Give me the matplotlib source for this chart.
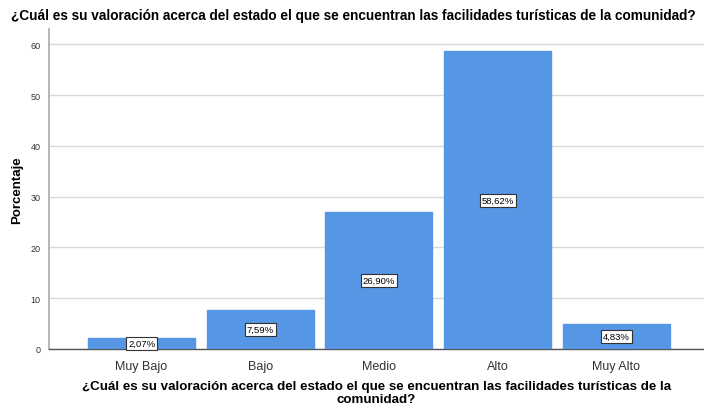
import matplotlib
matplotlib.use("Agg")
import matplotlib.pyplot as plt

categories = ["Muy Bajo", "Bajo", "Medio", "Alto", "Muy Alto"]
values = [2.07, 7.59, 26.90, 58.62, 4.83]
labels = ["2,07%", "7,59%", "26,90%", "58,62%", "4,83%"]
yticks = [0, 10, 20, 30, 40, 50, 60]
title = "¿Cuál es su valoración acerca del estado el que se encuentran las facilidades turísticas de la comunidad?"
xlabel = "¿Cuál es su valoración acerca del estado el que se encuentran las facilidades turísticas de la\ncomunidad?"
ylabel = "Porcentaje"

plt.rcParams['font.family'] = ['Liberation Sans', 'DejaVu Sans']

fig = plt.figure(figsize=(7.04, 4.10), dpi=100)
ax = fig.add_axes([49/704, 1 - 350/410, 1 - 49/704, 320/410])

x = list(range(len(categories)))
ax.bar(x, values, width=0.9, color="#5596E5", edgecolor="#5596E5", zorder=3)
for xi, v, lab in zip(x, values, labels):
    ax.text(xi, v / 2, lab, ha="center", va="center", fontsize=6.8, color="black", zorder=4,
            bbox=dict(boxstyle="square,pad=0.2", facecolor="white", edgecolor="#333333", linewidth=0.8))

ax.set_xlim(-0.78, 4.74)
ax.set_ylim(0, 63)
ax.set_yticks(yticks)
ax.set_yticklabels([str(t) for t in yticks], fontsize=6.5, color="#333333")
ax.set_xticks(x)
ax.set_xticklabels(categories, fontsize=9, color="#333333")
ax.tick_params(axis="both", length=0)
ax.tick_params(axis="y", pad=6)
ax.tick_params(axis="x", pad=8)
ax.grid(axis="y", color="#d9d9d9", linewidth=1, zorder=0)

for s in ["top", "right"]:
    ax.spines[s].set_visible(False)
ax.spines["left"].set_color("#aaaaaa")
ax.spines["left"].set_linewidth(1.2)
ax.spines["bottom"].set_color("#555555")
ax.spines["bottom"].set_linewidth(1)

ax.set_ylabel(ylabel, fontsize=9.5, fontweight="bold", labelpad=5)
ax.set_xlabel(xlabel, fontsize=9.6, fontweight="bold", labelpad=6, linespacing=1.02)
fig.text(353/704, 1 - 16/410, title, ha="center", va="center", fontsize=9.8, fontweight="bold")

fig.savefig("out.png", dpi=100)
